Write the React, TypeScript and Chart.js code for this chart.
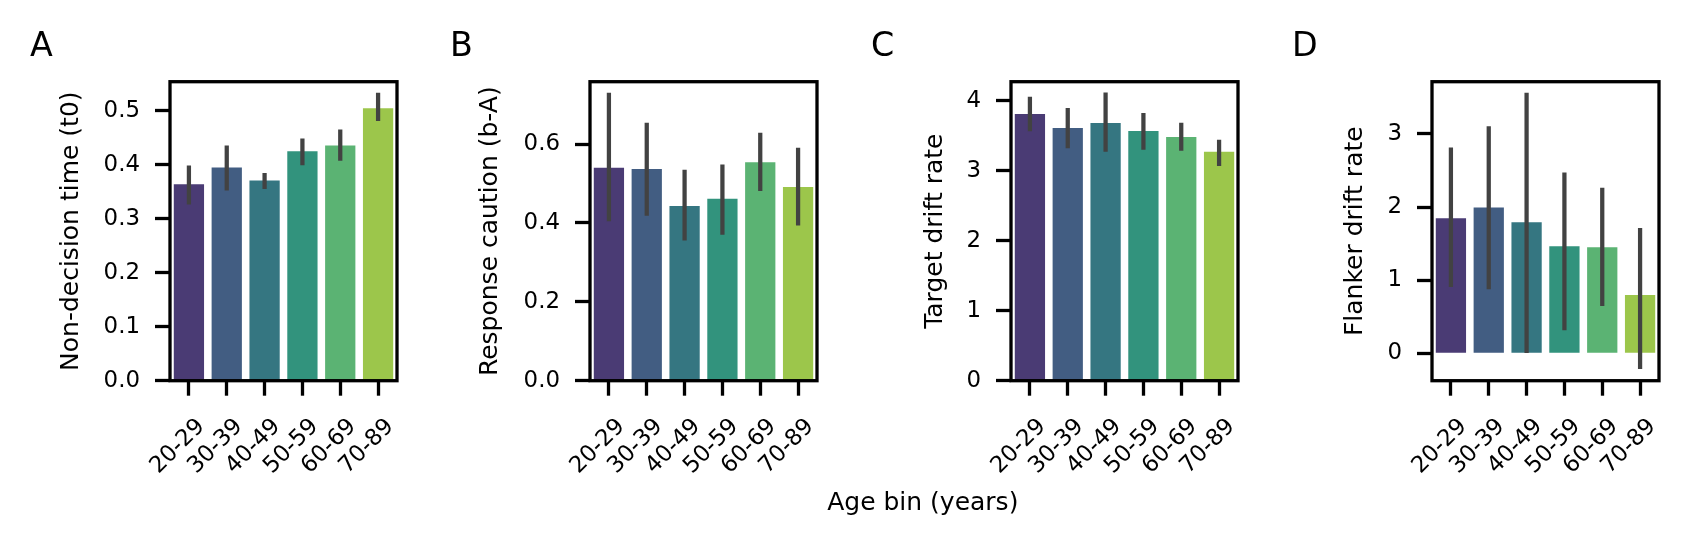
import React, { useEffect, useRef } from "react";
import { Chart, registerables } from "chart.js";

Chart.register(...registerables);
Chart.defaults.font.family = "'DejaVu Sans', sans-serif";
Chart.defaults.color = "#000";

// ---------- data ----------
const ageBins = ["20-29", "30-39", "40-49", "50-59", "60-69", "70-89"];
const barColors = ["#4a3b74", "#425d82", "#357681", "#32937d", "#5bb373", "#9cc64b"];

const t0Mean = [0.364, 0.395, 0.371, 0.425, 0.436, 0.505];
const t0Low = [0.327, 0.353, 0.356, 0.4, 0.408, 0.482];
const t0High = [0.398, 0.435, 0.384, 0.448, 0.465, 0.533];
const t0Ticks = [0, 0.1, 0.2, 0.3, 0.4, 0.5];
const t0TickLabels = ["0.0", "0.1", "0.2", "0.3", "0.4", "0.5"];

const cautionMean = [0.54, 0.537, 0.443, 0.461, 0.554, 0.491];
const cautionLow = [0.405, 0.419, 0.356, 0.371, 0.482, 0.394];
const cautionHigh = [0.729, 0.653, 0.534, 0.547, 0.628, 0.59];
const cautionTicks = [0, 0.2, 0.4, 0.6];
const cautionTickLabels = ["0.0", "0.2", "0.4", "0.6"];

const targetMean = [3.807, 3.61, 3.679, 3.565, 3.481, 3.269];
const targetLow = [3.566, 3.324, 3.274, 3.304, 3.289, 3.072];
const targetHigh = [4.05, 3.89, 4.11, 3.82, 3.68, 3.437];
const targetTicks = [0, 1, 2, 3, 4];
const targetTickLabels = ["0", "1", "2", "3", "4"];

const flankerMean = [1.848, 1.995, 1.791, 1.464, 1.45, 0.796];
const flankerLow = [0.91, 0.88, 0.01, 0.32, 0.65, -0.21];
const flankerHigh = [2.81, 3.1, 3.56, 2.47, 2.26, 1.71];
const flankerTicks = [0, 1, 2, 3];
const flankerTickLabels = ["0", "1", "2", "3"];

const panelLetters = ["A", "B", "C", "D"];
const yTitles = [
  "Non-decision time (t0)",
  "Response caution (b-A)",
  "Target drift rate",
  "Flanker drift rate",
];
const xTitle = "Age bin (years)";

type PanelSpec = {
  letter: string;
  yTitle: string;
  mean: number[];
  low: number[];
  high: number[];
  ticks: number[];
  tickLabels: string[];
  yMin: number;
  yMax: number;
  boxLeft: number;
  titlePad: number;
};

const panels: PanelSpec[] = [
  { letter: panelLetters[0], yTitle: yTitles[0], mean: t0Mean, low: t0Low, high: t0High, ticks: t0Ticks, tickLabels: t0TickLabels, yMin: 0, yMax: 0.554, boxLeft: 170, titlePad: 56.7 },
  { letter: panelLetters[1], yTitle: yTitles[1], mean: cautionMean, low: cautionLow, high: cautionHigh, ticks: cautionTicks, tickLabels: cautionTickLabels, yMin: 0, yMax: 0.758, boxLeft: 590, titlePad: 55 },
  { letter: panelLetters[2], yTitle: yTitles[2], mean: targetMean, low: targetLow, high: targetHigh, ticks: targetTicks, tickLabels: targetTickLabels, yMin: 0, yMax: 4.27, boxLeft: 1011, titlePad: 79 },
  { letter: panelLetters[3], yTitle: yTitles[3], mean: flankerMean, low: flankerLow, high: flankerHigh, ticks: flankerTicks, tickLabels: flankerTickLabels, yMin: -0.375, yMax: 3.715, boxLeft: 1432, titlePad: 78 },
];

// ---------- layout ----------
const FIG_W = 1687;
const FIG_H = 544;
const CANVAS_W = 420;
const Y_AXIS_W = 170;
const BOX_W = 227;
const BOX_TOP = 81.7;
const BOX_BOTTOM = 380.7;
const LINE_W = 3.3;
const TICK_FONT = 22.9;
const LABEL_FONT = 25;
const LETTER_FONT = 33.3;

const framePlugin = {
  id: "frame",
  afterDatasetsDraw(chart: any) {
    const { ctx, chartArea } = chart;
    ctx.save();
    ctx.strokeStyle = "#000";
    ctx.lineWidth = LINE_W;
    ctx.strokeRect(chartArea.left, chartArea.top, chartArea.right - chartArea.left, chartArea.bottom - chartArea.top);
    ctx.restore();
  },
};

function Panel({ spec }: { spec: PanelSpec }) {
  const ref = useRef<HTMLCanvasElement | null>(null);
  useEffect(() => {
    if (!ref.current) return;
    const gridOpts = {
      display: true,
      drawOnChartArea: false,
      drawTicks: true,
      tickLength: 15,
      tickWidth: LINE_W,
      tickColor: "#000",
      offset: false,
    };
    const chart = new Chart(ref.current, {
      type: "bar",
      data: {
        labels: ageBins,
        datasets: [
          {
            data: spec.low.map((l, i) => [l, spec.high[i]]) as any,
            backgroundColor: "#424242",
            borderWidth: 0,
            barThickness: 3.6,
            grouped: false,
            order: 1,
          },
          {
            data: spec.mean,
            backgroundColor: barColors,
            borderWidth: 0,
            barPercentage: 0.8,
            categoryPercentage: 1,
            grouped: false,
            order: 2,
          },
        ],
      },
      options: {
        animation: false,
        responsive: false,
        maintainAspectRatio: false,
        events: [],
        layout: { padding: { left: 0, top: BOX_TOP, right: CANVAS_W - Y_AXIS_W - BOX_W, bottom: 0 } },
        plugins: { legend: { display: false }, tooltip: { enabled: false }, title: { display: false } },
        scales: {
          x: {
            type: "category",
            offset: true,
            grid: gridOpts as any,
            border: { display: false },
            ticks: {
              font: { size: TICK_FONT },
              color: "#000",
              maxRotation: 45,
              minRotation: 45,
              autoSkip: false,
              labelOffset: 12.3,
              padding: 17.6,
            },
            afterFit: (s: any) => {
              s.height = FIG_H - BOX_BOTTOM;
            },
          },
          y: {
            type: "linear",
            min: spec.yMin,
            max: spec.yMax,
            grid: gridOpts as any,
            border: { display: false },
            ticks: {
              font: { size: TICK_FONT },
              color: "#000",
              padding: 15,
              callback: (_v: any, i: number) => spec.tickLabels[i],
            },
            afterBuildTicks: (s: any) => {
              s.ticks = spec.ticks.map((v) => ({ value: v }));
            },
            afterFit: (s: any) => {
              s.width = Y_AXIS_W;
            },
            title: {
              display: true,
              text: spec.yTitle,
              color: "#000",
              font: { size: LABEL_FONT },
              padding: { top: spec.titlePad, bottom: 0 },
            },
          },
        },
      },
      plugins: [framePlugin],
    });
    return () => chart.destroy();
  }, [spec]);

  return (
    <>
      <canvas
        ref={ref}
        width={CANVAS_W}
        height={FIG_H}
        style={{ position: "absolute", left: spec.boxLeft - Y_AXIS_W, top: 0, width: CANVAS_W, height: FIG_H }}
      />
      <div
        style={{
          position: "absolute",
          left: spec.boxLeft - 140,
          top: 56 - 0.846 * LETTER_FONT,
          fontFamily: "'DejaVu Sans', sans-serif",
          fontSize: LETTER_FONT,
          lineHeight: 1,
          color: "#000",
          whiteSpace: "nowrap",
        }}
      >
        {spec.letter}
      </div>
    </>
  );
}

export default function App() {
  return (
    <div
      style={{
        position: "absolute",
        left: 0,
        top: 0,
        width: FIG_W,
        height: FIG_H,
        background: "#fff",
        overflow: "hidden",
      }}
    >
      {panels.map((p) => (
        <Panel key={p.letter} spec={p} />
      ))}
      <div
        style={{
          position: "absolute",
          left: 922.8,
          top: 510 - 0.846 * LABEL_FONT,
          transform: "translateX(-50%)",
          fontFamily: "'DejaVu Sans', sans-serif",
          fontSize: LABEL_FONT,
          lineHeight: 1,
          color: "#000",
          whiteSpace: "nowrap",
        }}
      >
        {xTitle}
      </div>
    </div>
  );
}
